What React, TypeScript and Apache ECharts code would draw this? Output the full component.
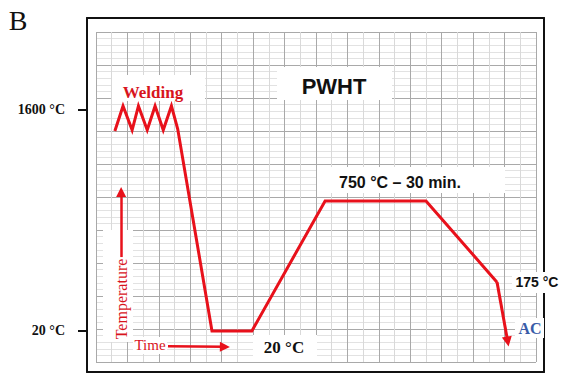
import React, { useEffect, useRef } from "react";
import * as echarts from "echarts";

// Schematic time units (one major grid cell = 1) and temperature levels (one major grid cell = 1)
const timeUnits = [0.6, 0.86, 1.15, 1.35, 1.63, 1.88, 2.14, 2.4, 2.6, 3.69, 4.96, 7.29, 10.5, 12.76];
const levelUnits = [7.0, 7.76, 7.03, 7.76, 7.03, 7.76, 7.03, 7.76, 7.06, 0.94, 0.94, 4.88, 4.88, 2.42];
const coolingEnd = [13.1, 0.62];
const tempArrow = [[0.8, 3.18], [0.8, 5.15]];
const timeArrow = [[2.29, 0.48], [4.1, 0.46]];
const tempTickLabels = ["20 °C", "1600 °C"];
const tempTickLevels = [0.94, 7.64];
const labelTexts = {
  panel: "B",
  welding: "Welding",
  pwht: "PWHT",
  hold: "750 °C – 30 min.",
  end: "175 °C",
  ac: "AC",
  temperature: "Temperature",
  time: "Time",
  room: "20 °C",
};

const RED = "#e8111b";
const SERIF = '"Liberation Serif", "DejaVu Serif", serif';
const SANS = '"Liberation Sans", Arial, sans-serif';

function textEl(text: string, x: number, y: number, font: string, fill: string, rotation = 0) {
  return {
    type: "text",
    x,
    y,
    rotation,
    z: 110,
    style: {
      text,
      x: 0,
      y: 0,
      font,
      fill,
      align: "center",
      verticalAlign: "middle",
      textAlign: "center",
      textVerticalAlign: "middle",
    },
  };
}

function boxEl(x: number, y: number, w: number, h: number) {
  return {
    type: "rect",
    z: 1,
    shape: { x, y, width: w, height: h },
    style: { fill: "#ffffff" },
  };
}

export default function App() {
  const ref = useRef<HTMLDivElement>(null);

  useEffect(() => {
    if (!ref.current) return;
    const chart = echarts.init(ref.current, undefined, { renderer: "svg" });

    const lineData = timeUnits.map((t, i) => [t, levelUnits[i]]);
    const lastIdx = timeUnits.length - 1;

    const option: any = {
      animation: false,
      backgroundColor: "#ffffff",
      grid: [
        { left: 87, top: 18, width: 457, height: 354 },
        { left: 96, top: 32, width: 440, height: 330 },
      ],
      xAxis: [
        {
          gridIndex: 0, type: "value", min: 0, max: 1, position: "bottom",
          axisLine: { show: true, onZero: false, lineStyle: { color: "#111", width: 2 } },
          axisTick: { show: false }, axisLabel: { show: false }, splitLine: { show: false },
        },
        {
          gridIndex: 0, type: "value", min: 0, max: 1, position: "top",
          axisLine: { show: true, onZero: false, lineStyle: { color: "#111", width: 2 } },
          axisTick: { show: false }, axisLabel: { show: false }, splitLine: { show: false },
        },
        {
          gridIndex: 1, type: "value", min: 0, max: 14, interval: 1,
          axisLine: { show: false }, axisTick: { show: false }, axisLabel: { show: false },
          splitLine: { show: true, lineStyle: { color: "#a9a9a9", width: 1 } },
          minorTick: { show: false, splitNumber: 2 },
          minorSplitLine: { show: true, lineStyle: { color: "#d9d9d9", width: 1 } },
        },
      ],
      yAxis: [
        {
          gridIndex: 0, type: "value", min: -10 / 33, max: 10 + 14 / 33, position: "left",
          axisLine: { show: true, onZero: false, lineStyle: { color: "#111", width: 2 } },
          axisTick: {
            show: true, inside: false, length: 9, customValues: tempTickLevels,
            lineStyle: { color: "#111", width: 2 },
          },
          axisLabel: {
            show: true, customValues: tempTickLevels, margin: 22,
            formatter: (v: number) => {
              const i = tempTickLevels.findIndex((t) => Math.abs(t - v) < 1e-6);
              return i >= 0 ? tempTickLabels[i] : "";
            },
            color: "#111", fontFamily: SERIF, fontWeight: "bold", fontSize: 14,
          },
          splitLine: { show: false },
        },
        {
          gridIndex: 0, type: "value", min: 0, max: 1, position: "right",
          axisLine: { show: true, onZero: false, lineStyle: { color: "#111", width: 2 } },
          axisTick: { show: false }, axisLabel: { show: false }, splitLine: { show: false },
        },
        {
          gridIndex: 1, type: "value", min: 0, max: 10, interval: 1,
          axisLine: { show: false }, axisTick: { show: false }, axisLabel: { show: false },
          splitLine: { show: true, lineStyle: { color: "#a9a9a9", width: 1 } },
          minorTick: { show: false, splitNumber: 5 },
          minorSplitLine: { show: true, lineStyle: { color: "#e2e2e2", width: 1 } },
        },
      ],
      series: [
        {
          type: "line",
          xAxisIndex: 2,
          yAxisIndex: 2,
          data: lineData,
          symbol: "none",
          silent: true,
          lineStyle: { color: RED, width: 3, join: "miter" },
          z: 5,
          markLine: {
            silent: true,
            symbol: ["none", "triangle"],
            symbolSize: 10,
            label: { show: false },
            emphasis: { disabled: true },
            z: 6,
            data: [
              [
                { coord: [timeUnits[lastIdx], levelUnits[lastIdx]], lineStyle: { color: RED, width: 3, type: "solid" } },
                { coord: coolingEnd },
              ],
              [
                { coord: tempArrow[0], lineStyle: { color: RED, width: 2.5, type: "solid" } },
                { coord: tempArrow[1] },
              ],
              [
                { coord: timeArrow[0], lineStyle: { color: RED, width: 2.5, type: "solid" } },
                { coord: timeArrow[1] },
              ],
            ],
          },
        },
      ],
      graphic: [
        textEl(labelTexts.panel, 18, 20, `28px ${SERIF}`, "#111"),
        boxEl(112, 75, 93, 26),
        textEl(labelTexts.welding, 153, 92, `bold 17px ${SERIF}`, "#d8141c"),
        boxEl(277, 67, 115, 33),
        textEl(labelTexts.pwht, 334, 86, `bold 22px ${SANS}`, "#111"),
        boxEl(317, 167, 188, 26),
        textEl(labelTexts.hold, 400, 182, `bold 16px ${SANS}`, "#111"),
        boxEl(512, 272, 50, 21),
        textEl(labelTexts.end, 537, 282, `bold 14px ${SANS}`, "#111"),
        boxEl(515, 318, 29, 20),
        textEl(labelTexts.ac, 530, 328, `bold 16px ${SERIF}`, "#3a5ca8"),
        boxEl(103, 230, 30, 112),
        textEl(labelTexts.temperature, 121, 299, `16px ${SERIF}`, "#d8141c", Math.PI / 2),
        boxEl(133, 337, 34, 17),
        textEl(labelTexts.time, 150, 345, `15px ${SERIF}`, "#d8141c"),
        boxEl(253, 335, 64, 27),
        textEl(labelTexts.room, 284, 347, `bold 17px ${SERIF}`, "#111"),
      ],
    };

    chart.setOption(option);
    return () => chart.dispose();
  }, []);

  return (
    <div
      ref={ref}
      style={{ position: "fixed", left: 0, top: 0, width: 570, height: 375, background: "#fff" }}
    />
  );
}
